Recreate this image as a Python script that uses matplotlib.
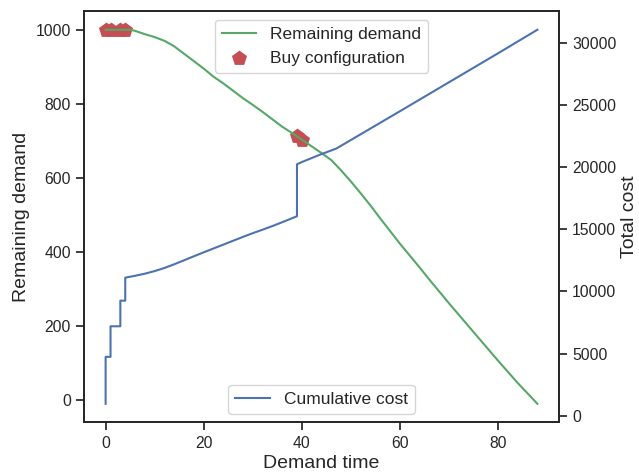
import numpy as np
import matplotlib
matplotlib.use("Agg")
import matplotlib.pyplot as plt

plt.rcParams.update({
    'font.family': ['Liberation Sans', 'DejaVu Sans'],
    'text.color': '.15',
    'axes.labelcolor': '.15',
    'axes.edgecolor': '.15',
    'axes.linewidth': 1.25,
    'xtick.color': '.15', 'ytick.color': '.15',
    'xtick.direction': 'out', 'ytick.direction': 'out',
    'xtick.major.size': 6, 'ytick.major.size': 6,
    'xtick.major.width': 1.25, 'ytick.major.width': 1.25,
    'lines.linewidth': 1.5,
    'legend.edgecolor': '0.8',
})

BLUE = '#4C72B0'
GREEN = '#55A868'
RED = '#C44E52'

# remaining demand over time (left axis)
demand_time = [0, 4, 5, 6, 8, 10, 12, 14, 16, 18, 20, 22, 24, 26, 28, 30, 32, 34,
               36, 38, 40, 42, 44, 46, 48, 50, 52, 54, 56, 58, 60, 62, 64, 66,
               68, 70, 72, 74, 76, 78, 80, 82, 84, 86, 88]
remaining = [1000, 1000, 1000, 997, 988, 980, 970, 955, 935, 915, 895, 873, 855,
             835, 815, 797, 778, 758, 738, 721, 703, 685, 667, 648, 620, 590, 558,
             525, 490, 456, 422, 390, 358, 325, 293, 261, 230, 199, 168, 137, 106,
             76, 46, 18, -10]

# purchase events
buy_time = [0, 1, 3, 4, 39, 40]
buy_remaining = [1000, 1000, 1000, 1000, 712, 703]

# cumulative cost (right axis); repeated times are purchase jumps
cost_time = [0, 0, 1, 1, 3, 3, 4, 4, 6, 8, 10, 12, 14, 16, 18, 20, 22, 24, 26, 28,
             30, 32, 34, 36, 38, 39, 39, 40, 42, 44, 46, 47, 60, 70, 80, 88]
cost = [957, 4730, 4730, 7190, 7190, 9250, 9250, 11100, 11250, 11420, 11630,
        11880, 12180, 12500, 12820, 13140, 13450, 13760, 14070, 14380, 14680,
        14960, 15250, 15560, 15880, 16040, 20220, 20400, 20720, 21040, 21330,
        21480, 24490, 26820, 29150, 31040]

fig = plt.figure(figsize=(6.39, 4.73), dpi=100)
ax = fig.add_axes([0.1315, 0.1068, 0.7433, 0.8699])

ax.plot(demand_time, remaining, color=GREEN, label='Remaining demand')
ax.scatter(buy_time, buy_remaining, marker='p', s=130, color=RED, linewidths=0,
           label='Buy configuration')
ax.set_xlabel('Demand time', fontsize=14, labelpad=3)
ax.set_ylabel('Remaining demand', fontsize=14)
ax.tick_params(labelsize=11.3)
ax.legend(loc='upper center', fontsize=12.5, fancybox=True, framealpha=0.8)

ax2 = ax.twinx()
ax2.plot(cost_time, cost, color=BLUE, label='Cumulative cost')
ax2.set_ylabel('Total cost', fontsize=14, labelpad=3)
ax2.tick_params(labelsize=11.3)
ax2.legend(loc='lower center', fontsize=12.5, fancybox=True, framealpha=0.8)

fig.savefig('out.png', dpi=100)
